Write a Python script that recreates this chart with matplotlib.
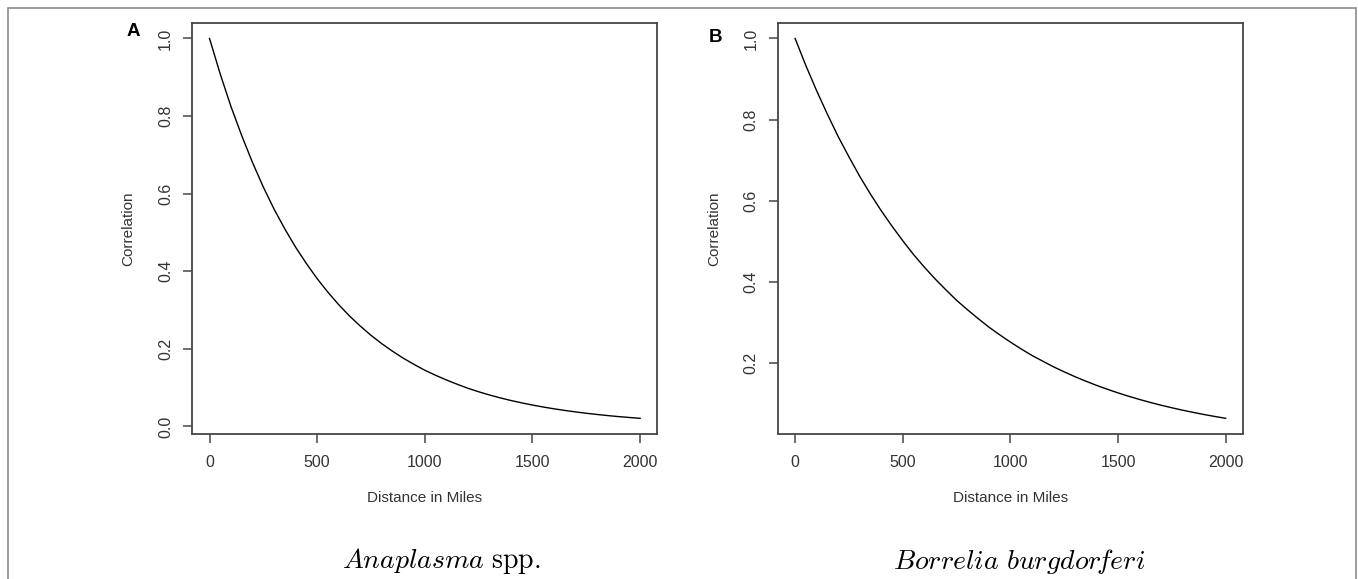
import matplotlib
matplotlib.use("Agg")
import matplotlib.pyplot as plt
from matplotlib.patches import Rectangle

# ---- data ----
distance = [0, 50, 100, 150, 200, 250, 300, 350, 400, 450, 500, 550, 600, 650, 700,
            750, 800, 850, 900, 950, 1000, 1050, 1100, 1150, 1200, 1250, 1300, 1350,
            1400, 1450, 1500, 1550, 1600, 1650, 1700, 1750, 1800, 1850, 1900, 1950, 2000]
corr_anaplasma = [1.000, 0.908, 0.824, 0.749, 0.680, 0.617, 0.560, 0.509, 0.462, 0.420,
                  0.381, 0.346, 0.314, 0.285, 0.259, 0.235, 0.2135, 0.194, 0.176, 0.160,
                  0.145, 0.132, 0.120, 0.109, 0.0986, 0.0895, 0.0813, 0.0738, 0.0670,
                  0.0609, 0.0553, 0.0502, 0.0456, 0.0414, 0.0376, 0.0341, 0.0310, 0.0281,
                  0.0255, 0.0232, 0.0211]
corr_borrelia = [1.000, 0.933, 0.871, 0.813, 0.758, 0.708, 0.660, 0.616, 0.575, 0.537,
                 0.501, 0.467, 0.436, 0.407, 0.380, 0.354, 0.331, 0.309, 0.288, 0.269,
                 0.251, 0.234, 0.218, 0.204, 0.190, 0.1775, 0.1656, 0.1546, 0.1442,
                 0.1346, 0.1256, 0.1172, 0.1094, 0.1020, 0.0952, 0.0889, 0.0829, 0.0774,
                 0.0722, 0.0674, 0.0629]
x_ticks = [0, 500, 1000, 1500, 2000]
y_ticks_a = [0.0, 0.2, 0.4, 0.6, 0.8, 1.0]
y_ticks_b = [0.2, 0.4, 0.6, 0.8, 1.0]
panel_labels = ["A", "B"]
captions = [r"$Anaplasma\ \mathrm{spp.}$", r"$Borrelia\ burgdor\!feri$"]
x_label = "Distance in Miles"
y_label = "Correlation"

plt.rcParams["font.family"] = ["Liberation Sans", "DejaVu Sans"]
plt.rcParams["mathtext.fontset"] = "cm"

W, H = 1358, 579
fig = plt.figure(figsize=(W / 100, H / 100), dpi=100)
fig.patch.set_facecolor("white")

# outer frame
fig.patches.append(Rectangle((8 / W, -0.1), (1356 - 8) / W, (H - 8) / H + 0.1,
                             transform=fig.transFigure, fill=False,
                             edgecolor="#8c8c8c", linewidth=1.2))

ax_top, ax_bot = 23.3, 433.5
lefts = [192.3, 777.9]
ax_w = 465.0
series = [corr_anaplasma, corr_borrelia]
yticks_list = [y_ticks_a, y_ticks_b]
label_xy = [(133, 32), (715, 37)]
caption_x = [441, 1019]

axis_col = "#333333"
for i in range(2):
    l = lefts[i]
    ax = fig.add_axes([l / W, (H - ax_bot) / H, ax_w / W, (ax_bot - ax_top) / H])
    y = series[i]
    ax.plot(distance, y, color="black", linewidth=1.0)
    ymin, ymax = min(y), max(y)
    r = ymax - ymin
    ax.set_ylim(ymin - 0.04 * r, ymax + 0.04 * r)
    ax.set_xlim(-80, 2080)
    ax.set_xticks(x_ticks)
    ax.set_yticks(yticks_list[i])
    ax.set_xticklabels([str(t) for t in x_ticks])
    ax.set_yticklabels(["%.1f" % t for t in yticks_list[i]], rotation=90, va="center")
    for s in ax.spines.values():
        s.set_color("#454545")
        s.set_linewidth(1.3)
    ax.tick_params(axis="x", length=6.8, width=1.1, color="#454545", pad=8.5,
                   labelsize=11.5, labelcolor=axis_col)
    ax.tick_params(axis="y", length=6.8, width=1.1, color="#454545", pad=7,
                   labelsize=11.5, labelcolor=axis_col)
    cx = l + ax_w / 2
    fig.text(cx / W, 1 - 498 / H, x_label, ha="center", va="center",
             fontsize=11, color=axis_col)
    fig.text((l - 64) / W, 1 - 229 / H, y_label, ha="center", va="center",
             rotation=90, fontsize=11, color=axis_col)
    fig.text(label_xy[i][0] / W, 1 - label_xy[i][1] / H, panel_labels[i], ha="center",
             va="center", fontsize=13.5, fontweight="bold", color="black")
    fig.text(caption_x[i] / W, 1 - 561 / H, captions[i], ha="center", va="center",
             fontsize=20, color="black")

fig.savefig("out.png", dpi=100)
